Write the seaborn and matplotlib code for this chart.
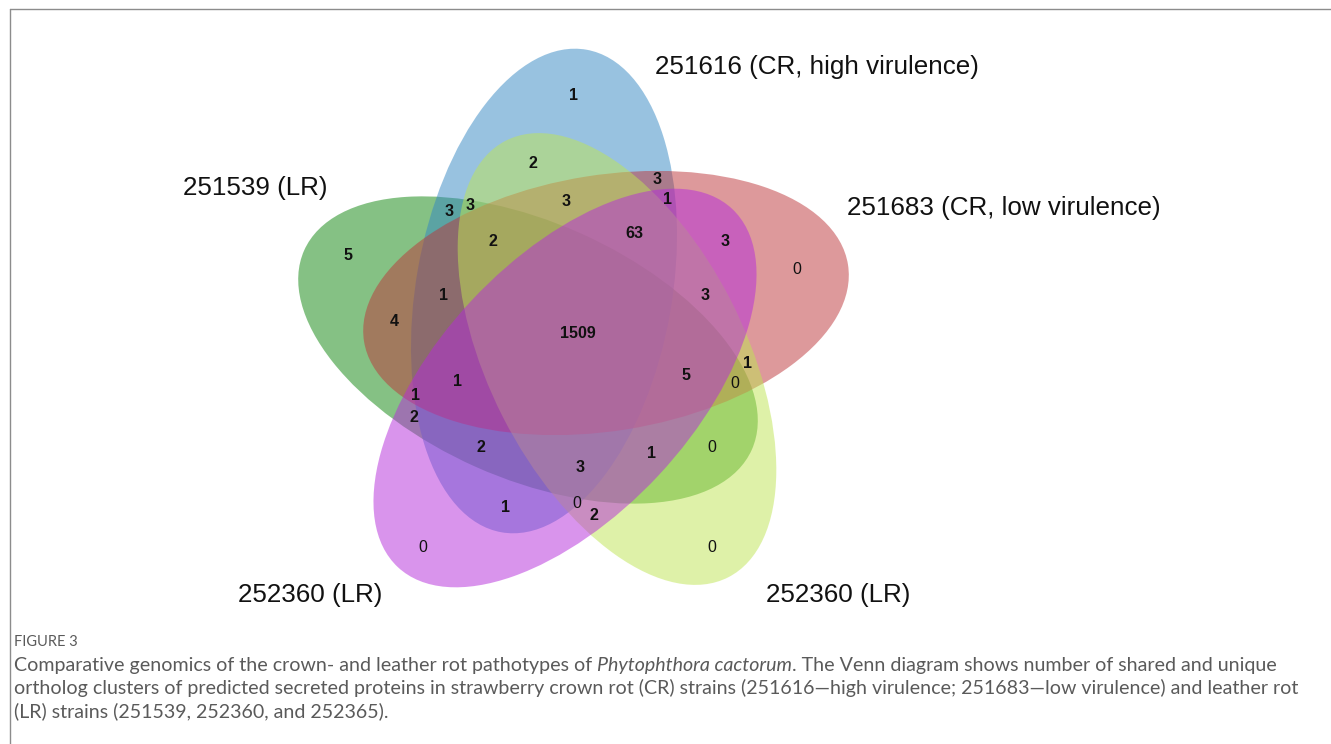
import matplotlib
matplotlib.use("Agg")
import matplotlib.pyplot as plt
from matplotlib.patches import Ellipse
from matplotlib.lines import Line2D
import seaborn as sns

# set names and colours (drawing order: bottom to top)
set_names = ["251539 (LR)", "251616 (CR, high virulence)", "251683 (CR, low virulence)",
             "252360 (LR)", "252360 (LR)"]
set_colors = ["#0D850B", "#3387C3", "#BD3539", "#BFE553", "#B52BDB"]

# region counts, in the same order as region_pos below
region_counts = [1, 2, 3, 1, 3, 3, 3, 2, 63, 3,
                 0, 5, 1, 3, 4, 1509, 1, 5, 1, 0,
                 1, 2, 2, 0, 1, 3, 1, 0, 2, 0, 0]

# layout (pixel coords of the original figure)
# ellipse: centre x, centre y, on-screen angle (deg, counter-clockwise)
ellipse_layout = [(528, 350, -24), (544, 291, 80), (606, 303, 9), (617, 359, 117), (565, 388, 47)]
ell_w, ell_h = 490, 256
region_pos = [(573, 96), (533, 164), (657, 180), (668, 199), (566, 202), (449, 212), (470, 206),
              (493, 242), (634, 233), (725, 242), (797, 270), (348, 255), (444, 296), (705, 295),
              (394, 322), (578, 334), (457, 382), (686, 375), (748, 364), (735, 384), (416, 396),
              (414, 418), (481, 447), (712, 447), (652, 454), (580, 467), (506, 507), (577, 503),
              (594, 516), (423, 547), (712, 547)]
name_pos = [(183, 188, "left"), (655, 67, "left"), (847, 208, "left"), (238, 595, "left"), (766, 595, "left")]

sns.set_theme(style="white")
plt.rcParams["font.family"] = ["Liberation Sans", "DejaVu Sans"]

W, H = 1331, 744
fig = plt.figure(figsize=(W / 100, H / 100), dpi=100)
ax = fig.add_axes([0, 0, 1, 1])
ax.set_xlim(0, W)
ax.set_ylim(H, 0)
ax.axis("off")

palette = sns.color_palette(set_colors)
for (cx, cy, ang), col in zip(ellipse_layout, palette):
    ax.add_patch(Ellipse((cx, cy), ell_w, ell_h, angle=-ang, facecolor=col, alpha=0.5,
                         edgecolor="none"))

for (x, y), n in zip(region_pos, region_counts):
    ax.text(x, y, str(n), ha="center", va="center", fontsize=11.5,
            fontweight="normal" if n == 0 else "bold", color="#111111")

for (x, y, ha), name in zip(name_pos, set_names):
    ax.text(x, y, name, ha=ha, va="center", fontsize=18.7, color="#111111")

# frame lines
fig.add_artist(Line2D([10 / W, 1], [1 - 9 / H, 1 - 9 / H], color="#8c8c8c", lw=1))
fig.add_artist(Line2D([10 / W, 10 / W], [0, 1 - 9 / H], color="#8c8c8c", lw=1))

# caption
cap_font = ["Lato", "DejaVu Sans"]
cap_color = "#5a5a5a"
cap_size = 14.1
ax.text(14, 642, "FIGURE 3", ha="left", va="center", fontsize=10.5, color=cap_color, family=cap_font)

renderer = fig.canvas.get_renderer()
line1 = [("Comparative genomics of the crown- and leather rot pathotypes of ", "normal"),
         ("Phytophthora cactorum", "italic"),
         (". The Venn diagram shows number of shared and unique", "normal")]
x = 14
for txt, style in line1:
    t = ax.text(x, 665, txt, ha="left", va="center", fontsize=cap_size, color=cap_color,
                family=cap_font, style=style)
    bb = t.get_window_extent(renderer=renderer)
    x += bb.width
ax.text(14, 688, "ortholog clusters of predicted secreted proteins in strawberry crown rot (CR) strains "
        "(251616\u2014high virulence; 251683\u2014low virulence) and leather rot",
        ha="left", va="center", fontsize=cap_size, color=cap_color, family=cap_font)
ax.text(14, 711, "(LR) strains (251539, 252360, and 252365).", ha="left", va="center",
        fontsize=cap_size, color=cap_color, family=cap_font)

fig.savefig("out.png", dpi=100)
